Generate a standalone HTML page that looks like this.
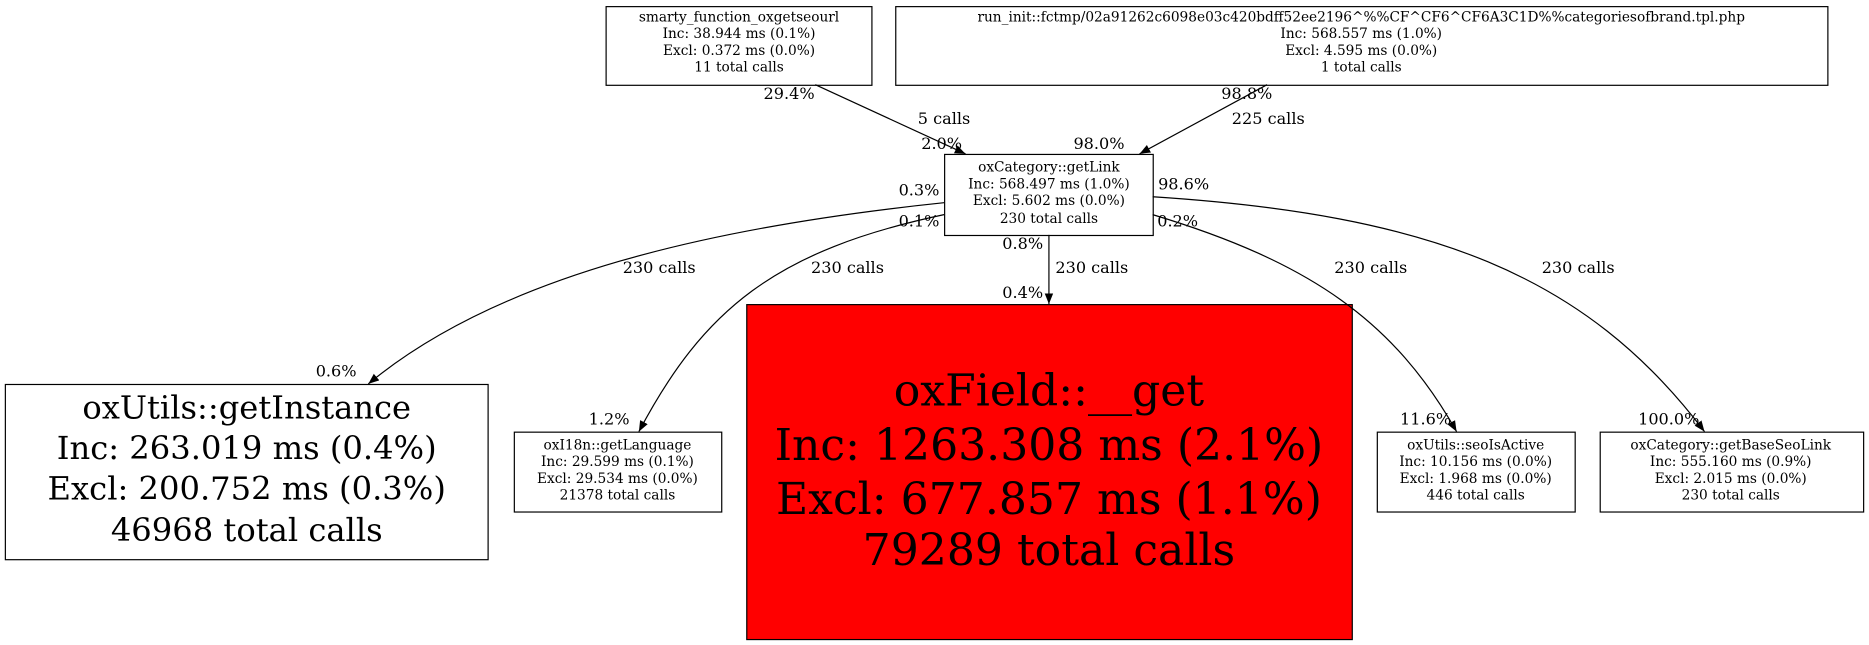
<!DOCTYPE html>
<html><head><meta charset="utf-8"><style>
html,body{margin:0;padding:0;background:#fff;}
svg{display:block;}
text{font-family:"DejaVu Serif","Liberation Serif",serif;fill:#000;}
.n{font-size:11.5px;}
.e{font-size:13.5px;}
</style></head><body>
<svg width="1869" height="645" viewBox="0 0 1568 541" xmlns="http://www.w3.org/2000/svg">
<defs><marker id="a" viewBox="0 0 10 10" refX="10" refY="5" markerWidth="9" markerHeight="9" markerUnits="userSpaceOnUse" orient="auto"><path d="M0,1 L10,5 L0,9 z" fill="#000"/></marker></defs>
<rect width="1568" height="541" fill="#fff"/>
<g fill="none" stroke="#000" stroke-width="1">
<rect x="508.5" y="5.5" width="223" height="66"/>
<rect x="751.5" y="5.5" width="782" height="66"/>
<rect x="792.5" y="129.5" width="175" height="68"/>
<rect x="4.5" y="322.5" width="405" height="147"/>
<rect x="431.5" y="362.5" width="174" height="67"/>
<rect x="626.5" y="255.5" width="508" height="281" fill="#ff0000"/>
<rect x="1155.5" y="362.5" width="166" height="67"/>
<rect x="1342.5" y="362.5" width="221" height="67"/>
<g marker-end="url(#a)">
<path d="M684,71 L810,129"/>
<path d="M1063,71 L956,129"/>
<path d="M792,170 C600,190 420,230 309,322"/>
<path d="M792,180 C650,210 590,260 536,362"/>
<path d="M880,197 L880,255"/>
<path d="M967,180 C1100,220 1170,270 1222,362"/>
<path d="M967,165 C1200,180 1330,230 1430,362"/>
</g>
</g>
<g class="n" text-anchor="middle">
<text x="620" y="18">smarty_function_oxgetseourl</text>
<text x="620" y="32">Inc: 38.944 ms (0.1%)</text>
<text x="620" y="46">Excl: 0.372 ms (0.0%)</text>
<text x="620" y="60">11 total calls</text>
<text x="1142" y="18">run_init::fctmp/02a91262c6098e03c420bdff52ee2196^%%CF^CF6^CF6A3C1D%%categoriesofbrand.tpl.php</text>
<text x="1142" y="32">Inc: 568.557 ms (1.0%)</text>
<text x="1142" y="46">Excl: 4.595 ms (0.0%)</text>
<text x="1142" y="60">1 total calls</text>
<text x="880" y="144">oxCategory::getLink</text>
<text x="880" y="158">Inc: 568.497 ms (1.0%)</text>
<text x="880" y="172">Excl: 5.602 ms (0.0%)</text>
<text x="880" y="187">230 total calls</text>
<text x="518" y="377">oxI18n::getLanguage</text>
<text x="518" y="391">Inc: 29.599 ms (0.1%)</text>
<text x="518" y="405">Excl: 29.534 ms (0.0%)</text>
<text x="518" y="419">21378 total calls</text>
<text x="1238" y="377">oxUtils::seoIsActive</text>
<text x="1238" y="391">Inc: 10.156 ms (0.0%)</text>
<text x="1238" y="405">Excl: 1.968 ms (0.0%)</text>
<text x="1238" y="419">446 total calls</text>
<text x="1452" y="377">oxCategory::getBaseSeoLink</text>
<text x="1452" y="391">Inc: 555.160 ms (0.9%)</text>
<text x="1452" y="405">Excl: 2.015 ms (0.0%)</text>
<text x="1452" y="419">230 total calls</text>
</g>
<g text-anchor="middle" style="font-size:27px">
<text x="207" y="351">oxUtils::getInstance</text>
<text x="207" y="385">Inc: 263.019 ms (0.4%)</text>
<text x="207" y="419">Excl: 200.752 ms (0.3%)</text>
<text x="207" y="454">46968 total calls</text>
</g>
<g text-anchor="middle" style="font-size:37px">
<text x="880" y="340">oxField::__get</text>
<text x="880" y="386">Inc: 1263.308 ms (2.1%)</text>
<text x="880" y="431">Excl: 677.857 ms (1.1%)</text>
<text x="880" y="474">79289 total calls</text>
</g>
<g class="e" text-anchor="middle">
<text x="662" y="83">29.4%</text>
<text x="792" y="104">5 calls</text>
<text x="790" y="125">2.0%</text>
<text x="1046" y="83">98.8%</text>
<text x="1064" y="104">225 calls</text>
<text x="922" y="125">98.0%</text>
<text x="771" y="164">0.3%</text>
<text x="553" y="229">230 calls</text>
<text x="282" y="316">0.6%</text>
<text x="771" y="190">0.1%</text>
<text x="711" y="229">230 calls</text>
<text x="511" y="356">1.2%</text>
<text x="858" y="209">0.8%</text>
<text x="916" y="229">230 calls</text>
<text x="858" y="250">0.4%</text>
<text x="988" y="190">0.2%</text>
<text x="1150" y="229">230 calls</text>
<text x="1196" y="356">11.6%</text>
<text x="993" y="159">98.6%</text>
<text x="1324" y="229">230 calls</text>
<text x="1400" y="356">100.0%</text>
</g>
</svg>
</body></html>
